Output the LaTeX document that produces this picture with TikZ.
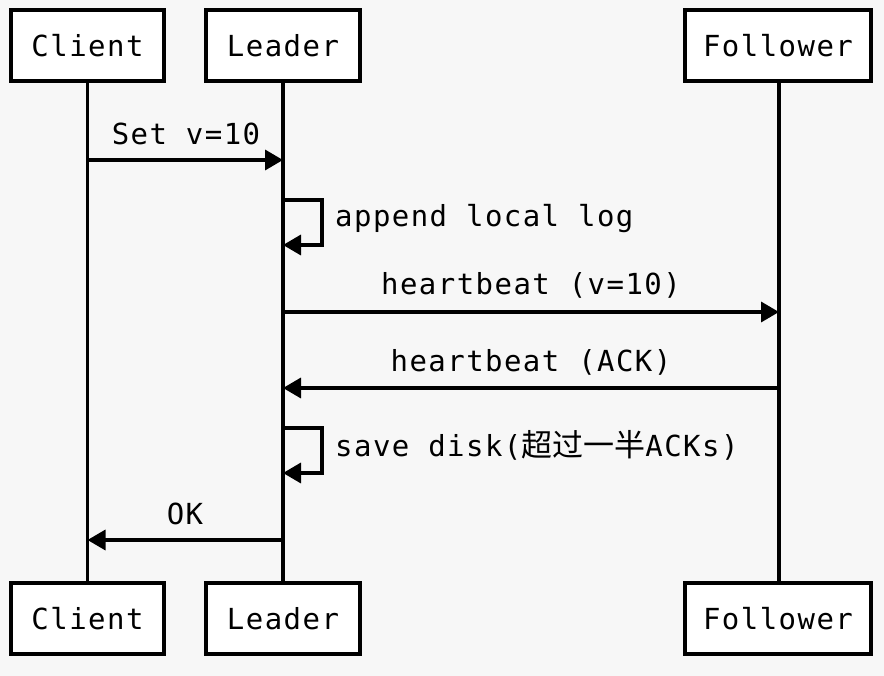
\documentclass[tikz,border=0pt]{standalone}
\usepackage{fontspec}
\usetikzlibrary{arrows.meta}
\newfontfamily\monolbl{DejaVu Sans Mono}[LetterSpace=5]
\newfontfamily\cjk{Noto Sans CJK SC}
\definecolor{bgc}{HTML}{F7F7F7}
\tikzset{
  actor/.style={draw=black, line width=4pt, fill=white, minimum height=71pt,
    inner sep=0pt, font=\monolbl\fontsize{29}{32}\selectfont},
  lifeline/.style={line width=3.5pt},
  msg/.style={line width=3.5pt, -{Triangle[length=18pt,width=20pt]}},
  lbl/.style={anchor=base, inner sep=0pt, font=\monolbl\fontsize{29}{32}\selectfont},
  lblw/.style={anchor=base west, inner sep=0pt, font=\monolbl\fontsize{29}{32}\selectfont}
}
\begin{document}
\begin{tikzpicture}[x=1pt,y=-1pt]
\fill[bgc] (0,0) rectangle (884,676);
\useasboundingbox (0,0) rectangle (884,676);
% lifelines first (boxes drawn over them)
\coordinate (ctc) at (87.5,45.5);
\coordinate (cbc) at (87.5,618.5);
\coordinate (ltc) at (283,45.5);
\coordinate (lbc) at (283,618.5);
\coordinate (ftc) at (779,45.5);
\coordinate (fbc) at (779,618.5);
\draw[lifeline] (ctc) -- (cbc);
\draw[lifeline] (ltc) -- (lbc);
\draw[lifeline] (ftc) -- (fbc);
% actors
\node[actor, minimum width=153pt] (ct) at (87.5,45.5) {Client};
\node[actor, minimum width=154pt] (lt) at (283,45.5) {Leader};
\node[actor, minimum width=186pt] (ft) at (778,45.5) {Follower};
\node[actor, minimum width=153pt] (cb) at (87.5,618.5) {Client};
\node[actor, minimum width=154pt] (lb) at (283,618.5) {Leader};
\node[actor, minimum width=186pt] (fb) at (778,618.5) {Follower};
% endpoints
\coordinate (m1a) at (87.5,160);
\coordinate (m1b) at (283,160);
\coordinate (s1a) at (283,200);
\coordinate (s1b) at (283,245);
\coordinate (m2a) at (283,312);
\coordinate (m2b) at (779,312);
\coordinate (m3a) at (779,388);
\coordinate (m3b) at (283,388);
\coordinate (s2a) at (283,428);
\coordinate (s2b) at (283,473);
\coordinate (m4a) at (283,540);
\coordinate (m4b) at (87.5,540);
% messages
\draw[msg] (m1a) -- (m1b);
\node[lbl] (t1) at (186,145) {Set v=10};
\draw[msg] (s1a) -- ++(39,0) |- (s1b);
\node[lblw] (t2) at (335,227) {append local log};
\draw[msg] (m2a) -- (m2b);
\node[lbl] (t3) at (531,295) {heartbeat (v=10)};
\draw[msg] (m3a) -- (m3b);
\node[lbl] (t4) at (531,372) {heartbeat (ACK)};
\draw[msg] (s2a) -- ++(39,0) |- (s2b);
\node[lblw] (t5) at (335,456) {save disk({\cjk\fontsize{31}{32}\selectfont 超过一半}ACKs)};
\draw[msg] (m4a) -- (m4b);
\node[lbl] (t6) at (185,524) {OK};
\end{tikzpicture}
\end{document}
